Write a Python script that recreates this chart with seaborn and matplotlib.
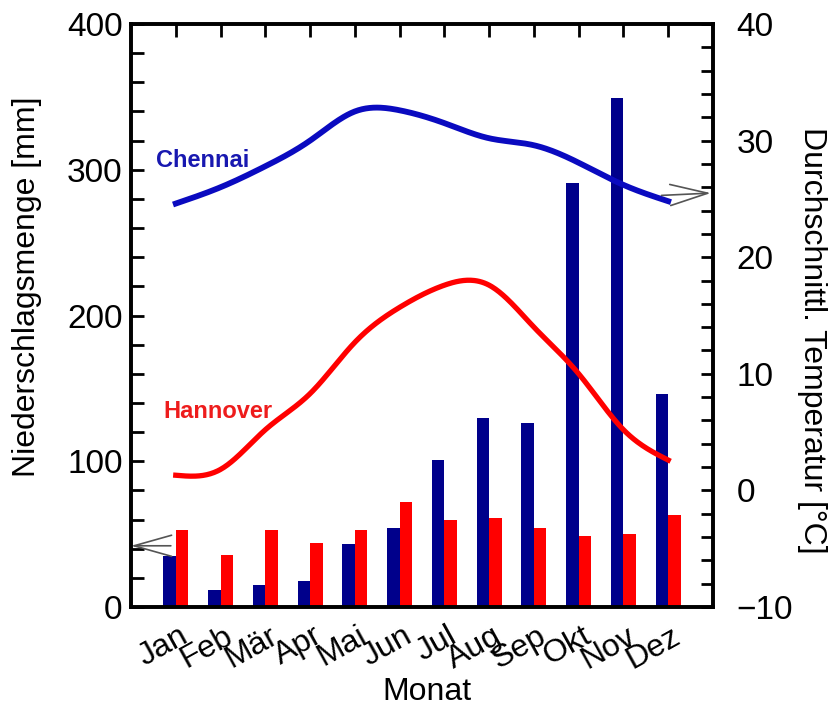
import numpy as np
import pandas as pd
import matplotlib
matplotlib.use("Agg")
import matplotlib.pyplot as plt
from matplotlib.ticker import MultipleLocator
import seaborn as sns

# Monthly climate data
months = ["Jan", "Feb", "Mär", "Apr", "Mai", "Jun",
          "Jul", "Aug", "Sep", "Okt", "Nov", "Dez"]
rain_chennai = [35, 12, 15, 18, 43, 54, 101, 130, 126, 291, 349, 146]
rain_hannover = [53, 36, 53, 44, 53, 72, 60, 61, 54, 49, 50, 63]
temp_chennai = [24.6, 26.0, 27.8, 30.0, 32.5, 32.6, 31.5, 30.2, 29.6, 28.1, 26.2, 24.8]
temp_hannover = [1.3, 1.8, 5.2, 8.3, 12.7, 15.7, 17.6, 17.6, 14.0, 10.0, 5.2, 2.6]

C_BAR_BLUE = "#00008B"
C_LINE_BLUE = "#0A0AC0"
C_RED = "#FF0000"

plt.rcParams["font.family"] = ["Liberation Sans", "DejaVu Sans"]


def natural_spline(x, y, n=400):
    """Natural cubic spline through (x, y), evaluated on a dense grid."""
    x = np.asarray(x, float)
    y = np.asarray(y, float)
    k = len(x)
    h = np.diff(x)
    A = np.zeros((k, k))
    r = np.zeros(k)
    A[0, 0] = A[-1, -1] = 1.0
    for i in range(1, k - 1):
        A[i, i - 1] = h[i - 1]
        A[i, i] = 2 * (h[i - 1] + h[i])
        A[i, i + 1] = h[i]
        r[i] = 6 * ((y[i + 1] - y[i]) / h[i] - (y[i] - y[i - 1]) / h[i - 1])
    M = np.linalg.solve(A, r)
    xs = np.linspace(x[0], x[-1], n)
    idx = np.clip(np.searchsorted(x, xs) - 1, 0, k - 2)
    x0, x1 = x[idx], x[idx + 1]
    hh = x1 - x0
    ys = (M[idx] * (x1 - xs) ** 3 / (6 * hh) + M[idx + 1] * (xs - x0) ** 3 / (6 * hh)
          + (y[idx] / hh - M[idx] * hh / 6) * (x1 - xs)
          + (y[idx + 1] / hh - M[idx + 1] * hh / 6) * (xs - x0))
    return xs, ys


rain = pd.DataFrame({
    "Monat": months * 2,
    "Stadt": ["Chennai"] * 12 + ["Hannover"] * 12,
    "Niederschlag": rain_chennai + rain_hannover,
})

fig = plt.figure(figsize=(8.29, 7.09), dpi=100)
ax = fig.add_axes([131 / 829, 1 - 607 / 709, 582 / 829, 583 / 709])

sns.barplot(data=rain, x="Monat", y="Niederschlag", hue="Stadt", order=months,
            hue_order=["Chennai", "Hannover"],
            palette={"Chennai": C_BAR_BLUE, "Hannover": C_RED},
            width=0.56, saturation=1, errorbar=None, legend=False, ax=ax,
            linewidth=0)

ax.set_xlim(-1, 12)
ax.set_ylim(0, 400)
ax.yaxis.set_major_locator(MultipleLocator(100))
ax.yaxis.set_minor_locator(MultipleLocator(20))
ax.tick_params(axis="y", which="both", direction="in", length=9, width=2,
               labelsize=24, pad=6)
ax.tick_params(axis="x", which="both", bottom=False, top=True, direction="in",
               length=9, width=2, labelsize=23, pad=10)
ax.set_xticks(range(12))
ax.set_xticklabels(months, rotation=29, ha="right", va="top",
                   rotation_mode="anchor")
for lbl in ax.get_xticklabels():
    lbl.set_transform(lbl.get_transform() +
                      matplotlib.transforms.ScaledTranslation(3 / 100, 0,
                                                              fig.dpi_scale_trans))

ax.set_xlabel("Monat", fontsize=23)
ax.xaxis.set_label_coords(0.509, -0.146)
ax.xaxis.label.set_va("center")
ax.set_ylabel("Niederschlagsmenge [mm]", fontsize=23)
ax.yaxis.set_label_coords(-0.179, 0.549)
ax.yaxis.label.set_va("center")

# Temperature curves on the secondary axis
tw = ax.twinx()
pos = np.arange(12)
xs, ys = natural_spline(pos, temp_chennai)
sns.lineplot(x=xs, y=ys, color=C_LINE_BLUE, lw=4.2, ax=tw, sort=False)
xs, ys = natural_spline(pos, temp_hannover)
sns.lineplot(x=xs, y=ys, color=C_RED, lw=3.8, ax=tw, sort=False)

tw.set_ylim(-10, 40)
tw.set_xlim(-1, 12)
tw.yaxis.set_major_locator(MultipleLocator(10))
tw.yaxis.set_minor_locator(MultipleLocator(2))
tw.tick_params(axis="y", which="both", direction="in", length=9, width=2,
               labelsize=24, pad=17)
tw.set_ylabel("Durchschnittl. Temperatur [°C]", fontsize=23, rotation=270)
tw.yaxis.set_label_coords(1.170, 0.458)
tw.yaxis.label.set_va("center")
tw.set_xlabel("")

for a in (ax, tw):
    for s in a.spines.values():
        s.set_linewidth(2.6)
        s.set_color("black")

# City labels
ax.text(-0.45, 302, "Chennai", color="#1818B0", fontsize=17, fontweight="bold",
        va="baseline", ha="left")
ax.text(-0.27, 129.5, "Hannover", color="#EE1C1C", fontsize=17, fontweight="bold",
        va="baseline", ha="left")

# Axis pointers
arrow = dict(arrowstyle="->,head_length=1.35,head_width=0.38", color="#555555",
             lw=1.2, shrinkA=0, shrinkB=0, mutation_scale=20)
ax.annotate("", xy=(-1, 42), xytext=(-0.11, 42), arrowprops=arrow)
tw.annotate("", xy=(11.95, 25.5), xytext=(10.85, 25.3), arrowprops=arrow)

fig.savefig("out.png", dpi=100)
